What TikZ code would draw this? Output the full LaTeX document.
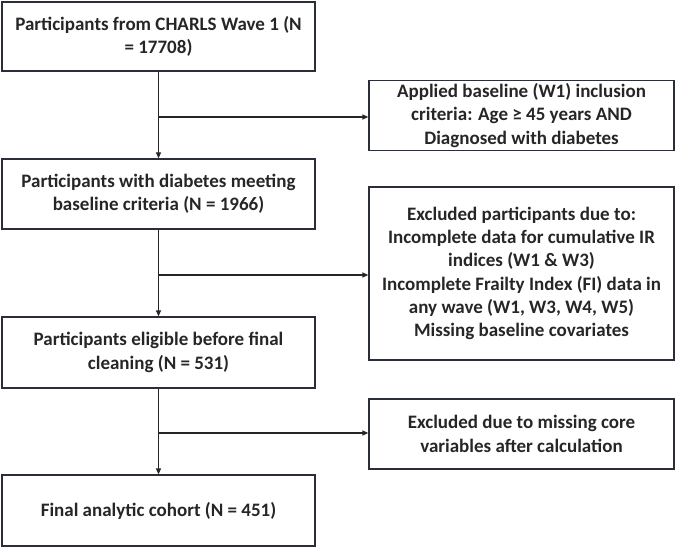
\documentclass[tikz,border=0pt]{standalone}
\usepackage{fontspec}
\setmainfont{Carlito}
\usetikzlibrary{arrows.meta}
\definecolor{boxline}{HTML}{2A2E38}
\definecolor{txt}{HTML}{262626}
\begin{document}
\begin{tikzpicture}[x=1bp,y=-1bp,
  box/.style={draw=boxline,line width=1.3bp,inner sep=0pt,align=center,text=txt,
    font=\bfseries\fontsize{19bp}{23.3bp}\selectfont},
  conn/.style={draw=black!85,line width=1.3bp},
  arr/.style={conn,-{Triangle[length=6bp,width=5bp]}}]
\useasboundingbox (0,0) rectangle (675,547);
% main column
\node[box,minimum width=313bp,minimum height=69bp] (b1) at (158.5,36.5) {Participants from CHARLS Wave 1 (N\\= 17708)};
\node[box,minimum width=313bp,minimum height=70bp] (b2) at (158.5,194) {Participants with diabetes meeting\\baseline criteria (N = 1966)};
\node[box,minimum width=313bp,minimum height=71bp] (b3) at (158.5,352.5) {Participants eligible before final\\cleaning (N = 531)};
\node[box,minimum width=313bp,minimum height=71bp] (b4) at (158.5,510.5) {Final analytic cohort (N = 451)};
% side boxes
\node[box,minimum width=305bp,minimum height=70bp] (r1) at (521.5,115.5) {Applied baseline (W1) inclusion\\criteria: Age ≥ 45 years AND\\Diagnosed with diabetes};
\node[box,minimum width=305bp,minimum height=173bp] (r2) at (521.5,273.5) {Excluded participants due to:\\Incomplete data for cumulative IR\\indices (W1 \& W3)\\Incomplete Frailty Index (FI) data in\\any wave (W1, W3, W4, W5)\\Missing baseline covariates};
\node[box,minimum width=305bp,minimum height=70bp] (r3) at (521.5,434) {Excluded due to missing core\\variables after calculation};
% branch points
\coordinate (j1) at (158,117);
\coordinate (j2) at (158,275);
\coordinate (j3) at (158,433);
% connectors
\draw[arr] (b1.south) -- (b2.north);
\draw[arr] (b2.south) -- (b3.north);
\draw[arr] (b3.south) -- (b4.north);
\draw[arr] (j1) -- (r1.west |- j1);
\draw[arr] (j2) -- (r2.west |- j2);
\draw[arr] (j3) -- (r3.west |- j3);
\end{tikzpicture}
\end{document}
